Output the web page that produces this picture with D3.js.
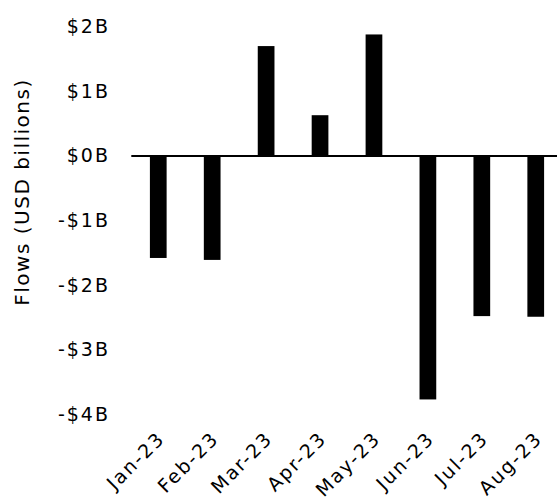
<!DOCTYPE html>
<html>
<head>
<meta charset="utf-8">
<script src="https://cdn.jsdelivr.net/npm/d3@7"></script>
<style>
body { margin: 0; background: #fff; }
text { font-family: "DejaVu Sans", sans-serif; fill: #000; }
</style>
</head>
<body>
<div id="chart"></div>
<script>
var months = ['Jan-23', 'Feb-23', 'Mar-23', 'Apr-23', 'May-23', 'Jun-23', 'Jul-23', 'Aug-23'];
var flows = [-1.58, -1.61, 1.70, 0.63, 1.88, -3.77, -2.48, -2.49];
var yTicks = [2, 1, 0, -1, -2, -3, -4];

var width = 557, height = 504;
var svg = d3.select('#chart').append('svg').attr('width', width).attr('height', height);

var x = d3.scaleBand().domain(months).range([131.3, 562.7]).paddingInner(0.69).paddingOuter(0.345);
var y = d3.scaleLinear().domain([-4, 2]).range([414.3, 26.7]);

function fmt(v) { return (v < 0 ? '-' : '') + '$' + Math.abs(v) + 'B'; }

// y labels
var yAxis = d3.axisLeft(y).tickValues(yTicks).tickFormat(fmt).tickSize(0).tickPadding(0);
var gy = svg.append('g').attr('transform', 'translate(110,0)').call(yAxis);
gy.select('.domain').remove();
gy.selectAll('text').attr('font-size', '19px').attr('letter-spacing', '2px').style('font-family', '"DejaVu Sans", sans-serif');

// bars
svg.append('g').selectAll('rect').data(flows).enter().append('rect')
    .attr('x', function(d, i) { return x(months[i]); })
    .attr('width', x.bandwidth())
    .attr('y', function(d) { return y(Math.max(0, d)); })
    .attr('height', function(d) { return Math.abs(y(d) - y(0)); })
    .attr('fill', '#000');

// zero line
svg.append('line').attr('x1', x.range()[0]).attr('x2', width)
    .attr('y1', y(0)).attr('y2', y(0))
    .attr('stroke', '#000').attr('stroke-width', 2);

// x labels
var xAxis = d3.axisBottom(x).tickSize(0).tickPadding(0);
var gx = svg.append('g').attr('transform', 'translate(0,' + 435 + ')').call(xAxis);
gx.select('.domain').remove();
gx.selectAll('text')
    .attr('font-size', '19px').attr('letter-spacing', '2px')
    .style('font-family', '"DejaVu Sans", sans-serif')
    .attr('text-anchor', 'end')
    .attr('dy', '0.35em')
    .attr('transform', 'translate(3,0) rotate(-45)');

// y title
svg.append('text')
    .attr('transform', 'translate(29,192) rotate(-90)')
    .attr('text-anchor', 'middle')
    .attr('font-size', '20px')
    .attr('letter-spacing', '1.5px')
    .text('Flows (USD billions)');
</script>
</body>
</html>
